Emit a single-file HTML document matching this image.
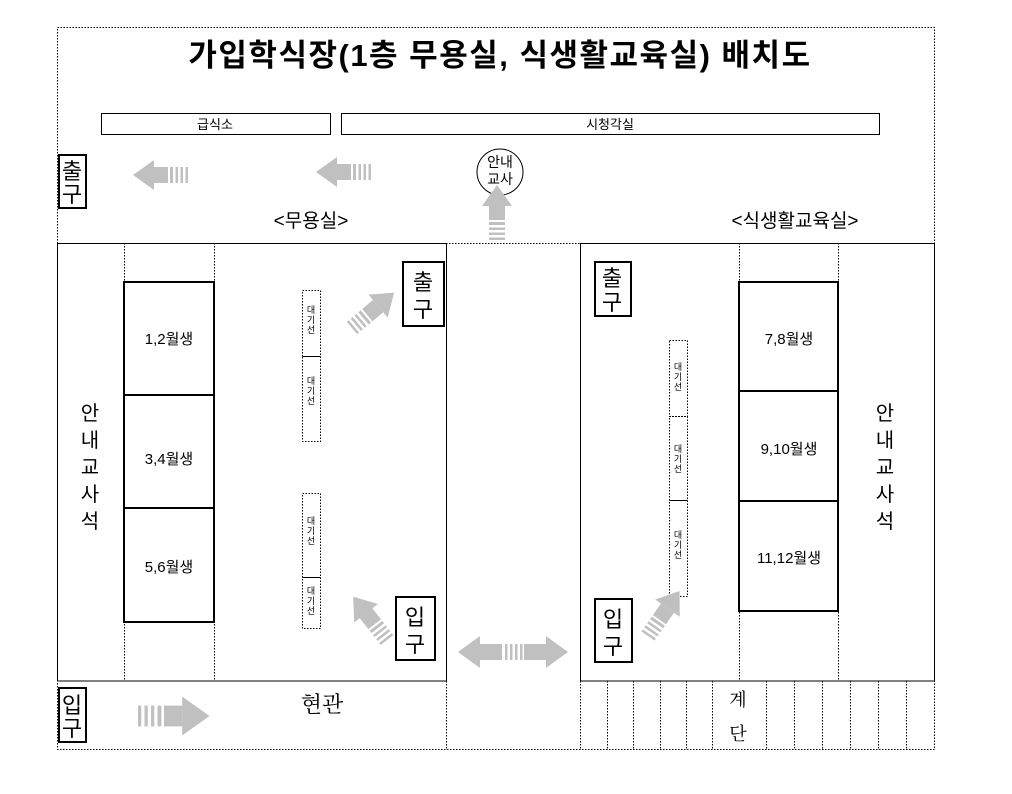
<!DOCTYPE html>
<html><head><meta charset="utf-8"><style>
body{margin:0;background:#fff}
svg{display:block}
text{font-family:"Liberation Sans","Noto Sans CJK KR",sans-serif;fill:#000}
.s{font-family:"Liberation Serif","Noto Serif CJK SC",serif}
</style></head><body>
<svg width="1012" height="794" viewBox="0 0 1012 794" xmlns="http://www.w3.org/2000/svg">
<defs>
<g id="ar" fill="#c0c0c0">
<rect x="0" y="-8" width="2.5" height="16"/><rect x="5" y="-8" width="2.5" height="16"/><rect x="10" y="-8" width="2.5" height="16"/><rect x="15" y="-8" width="3" height="16"/>
<rect x="20" y="-8" width="14" height="16"/>
<polygon points="34,-15 55,0 34,15"/>
</g>
</defs>
<g fill="none" stroke="#000" stroke-width="1" stroke-dasharray="1.5,1.5">
<rect x="57.5" y="27.5" width="877" height="722"/>
<line x1="446.5" y1="243" x2="446.5" y2="750"/>
<line x1="580.5" y1="681" x2="580.5" y2="750"/>
<line x1="446" y1="243.5" x2="580" y2="243.5"/>
<line x1="124.5" y1="243" x2="124.5" y2="681"/>
<line x1="214.5" y1="243" x2="214.5" y2="681"/>
<line x1="739.5" y1="243" x2="739.5" y2="681"/>
<line x1="838.5" y1="243" x2="838.5" y2="681"/>
<rect x="302.5" y="290.5" width="18" height="66"/><rect x="302.5" y="356.5" width="18" height="85"/>
<rect x="302.5" y="493.5" width="18" height="84"/><rect x="302.5" y="577.5" width="18" height="51"/>
<rect x="669.5" y="340.5" width="18" height="76"/><rect x="669.5" y="416.5" width="18" height="84"/><rect x="669.5" y="500.5" width="18" height="96"/>
<path d="M607.5 681V750M633.5 681V750M660.5 681V750M686.5 681V750M712.5 681V750M766.5 681V750M794.5 681V750M822.5 681V750M850.5 681V750M878.5 681V750M906.5 681V750"/>
</g>
<g fill="none" stroke="#000" stroke-width="1">
<rect x="57.5" y="243.5" width="389" height="437.5"/>
<rect x="580.5" y="243.5" width="354" height="437.5"/>
<rect x="101.5" y="113.5" width="229" height="21"/>
<rect x="341.5" y="113.5" width="538" height="21"/>
<circle cx="500" cy="172" r="23"/>
</g>
<g fill="none" stroke="#000" stroke-width="2">
<rect x="59" y="155" width="27" height="53"/>
<rect x="403" y="262" width="41" height="64"/>
<rect x="396" y="597" width="39" height="63"/>
<rect x="595" y="262" width="36" height="54"/>
<rect x="595" y="599" width="37" height="63"/>
<rect x="59" y="688" width="27" height="54"/>
<rect x="124" y="282" width="90" height="113"/><rect x="124" y="395" width="90" height="113"/><rect x="124" y="508" width="90" height="114"/>
<rect x="739" y="282" width="99" height="109"/><rect x="739" y="391" width="99" height="110"/><rect x="739" y="501" width="99" height="110"/>
</g>
<use href="#ar" transform="translate(188,175) rotate(180)"/>
<use href="#ar" transform="translate(371,172) rotate(180)"/>
<use href="#ar" transform="translate(497,240) rotate(-90)"/>
<use href="#ar" transform="translate(352,328) rotate(-40)"/>
<use href="#ar" transform="translate(387,640) rotate(-128)"/>
<use href="#ar" transform="translate(648,636) rotate(-55)"/>
<use href="#ar" transform="translate(138,716) scale(1.3)"/>
<g fill="#c0c0c0">
<polygon points="458,652 480,636 480,644 502,644 502,660 480,660 480,668"/>
<polygon points="568,652 546,636 546,644 524,644 524,660 546,660 546,668"/>
<rect x="505" y="644" width="2.5" height="16"/><rect x="510" y="644" width="2.5" height="16"/><rect x="515" y="644" width="2.5" height="16"/><rect x="520" y="644" width="2.5" height="16"/>
</g>
<text x="500" y="66" font-size="31" font-weight="bold" letter-spacing="1.5" text-anchor="middle">가입학식장(1층  무용실,  식생활교육실)  배치도</text>
<text x="215" y="129" font-size="13" text-anchor="middle">급식소</text>
<text x="610" y="129" font-size="13" text-anchor="middle">시청각실</text>
<g font-size="22" text-anchor="middle">
<text x="72" y="179">출</text><text x="72" y="202">구</text>
<text x="423" y="290">출</text><text x="423" y="317">구</text>
<text x="612" y="286">출</text><text x="612" y="310">구</text>
<text x="415" y="625">입</text><text x="415" y="652">구</text>
<text x="613" y="627">입</text><text x="613" y="654">구</text>
<text x="72" y="713">입</text><text x="72" y="736">구</text>
</g>
<g font-size="20" text-anchor="middle">
<text x="90" y="420">안</text><text x="90" y="447">내</text><text x="90" y="474">교</text><text x="90" y="501">사</text><text x="90" y="528">석</text>
<text x="885" y="420">안</text><text x="885" y="447">내</text><text x="885" y="474">교</text><text x="885" y="501">사</text><text x="885" y="528">석</text>
</g>
<text x="500" y="167" font-size="14" text-anchor="middle">안내</text>
<text x="500" y="184" font-size="14" text-anchor="middle">교사</text>
<text x="311" y="227" font-size="19" text-anchor="middle">&lt;무용실&gt;</text>
<text x="795" y="227" font-size="19" text-anchor="middle">&lt;식생활교육실&gt;</text>
<g font-size="15" text-anchor="middle">
<text x="169" y="344">1,2월생</text><text x="169" y="464">3,4월생</text><text x="169" y="572">5,6월생</text>
<text x="789" y="344">7,8월생</text><text x="789" y="454">9,10월생</text><text x="789" y="563">11,12월생</text>
</g>
<g font-size="9" text-anchor="middle">
<text x="311" y="313">대</text><text x="311" y="323">기</text><text x="311" y="333">선</text>
<text x="311" y="384">대</text><text x="311" y="394">기</text><text x="311" y="404">선</text>
<text x="311" y="524">대</text><text x="311" y="534">기</text><text x="311" y="544">선</text>
<text x="311" y="594">대</text><text x="311" y="604">기</text><text x="311" y="614">선</text>
<text x="678" y="370">대</text><text x="678" y="380">기</text><text x="678" y="390">선</text>
<text x="678" y="452">대</text><text x="678" y="462">기</text><text x="678" y="472">선</text>
<text x="678" y="538">대</text><text x="678" y="548">기</text><text x="678" y="558">선</text>
</g>
<text x="322" y="712" font-size="22" class="s" text-anchor="middle">현관</text>
<text x="738" y="706" font-size="18" class="s" text-anchor="middle">계</text>
<text x="738" y="740" font-size="18" class="s" text-anchor="middle">단</text>
</svg>
</body></html>
